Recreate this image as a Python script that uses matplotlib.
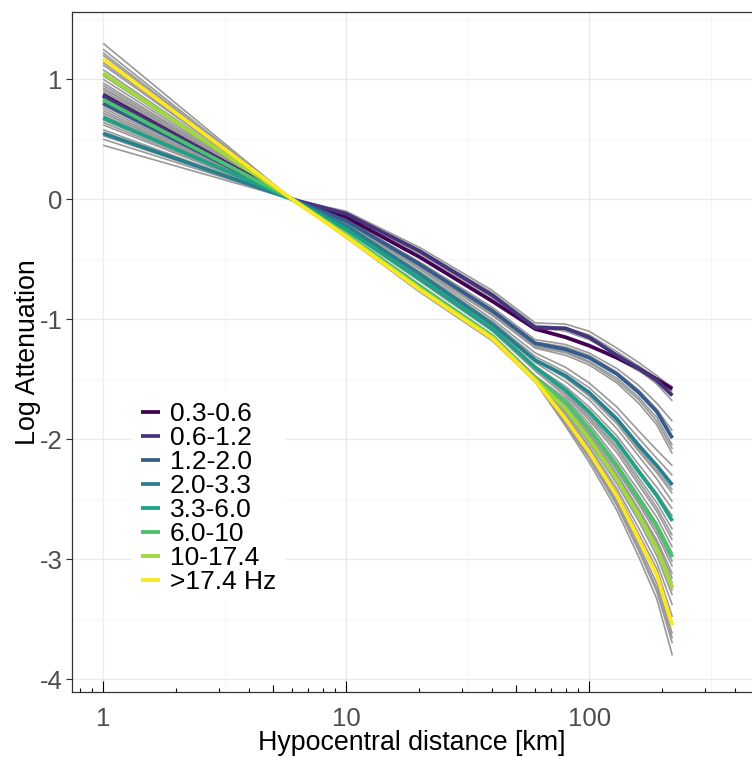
import numpy as np
import matplotlib
matplotlib.use("Agg")
import matplotlib.pyplot as plt

plt.rcParams['font.family'] = ['Liberation Sans', 'DejaVu Sans']
plt.rcParams['axes.unicode_minus'] = False

# distances (km) where the curves are read
dist = [1, 6, 10, 20, 40, 60, 80, 100, 130, 160, 190, 220]

bands = ['0.3-0.6', '0.6-1.2', '1.2-2.0', '2.0-3.3', '3.3-6.0', '6.0-10', '10-17.4', '>17.4 Hz']
band_colors = ['#440154', '#46337E', '#365C8D', '#277F8E', '#1FA187', '#4AC16D', '#9FDA3A', '#FDE725']

# log attenuation of the band averages
b1 = [0.87, 0, -0.15, -0.48, -0.85, -1.08, -1.15, -1.22, -1.32, -1.41, -1.50, -1.58]
b2 = [0.86, 0, -0.12, -0.43, -0.80, -1.07, -1.075, -1.15, -1.30, -1.41, -1.51, -1.635]
b3 = [0.80, 0, -0.18, -0.54, -0.93, -1.20, -1.25, -1.32, -1.455, -1.61, -1.77, -1.99]
b4 = [0.55, 0, -0.22, -0.62, -1.04, -1.34, -1.47, -1.61, -1.83, -2.05, -2.22, -2.38]
b5 = [0.68, 0, -0.25, -0.66, -1.08, -1.40, -1.59, -1.77, -2.02, -2.27, -2.47, -2.68]
b6 = [0.83, 0, -0.29, -0.72, -1.14, -1.49, -1.69, -1.91, -2.22, -2.49, -2.72, -2.98]
b7 = [1.05, 0, -0.30, -0.74, -1.15, -1.50, -1.745, -1.995, -2.33, -2.63, -2.91, -3.24]
b8 = [1.17, 0, -0.31, -0.75, -1.16, -1.51, -1.83, -2.105, -2.47, -2.83, -3.13, -3.55]
band_values = [b1, b2, b3, b4, b5, b6, b7, b8]

# single-frequency curves (grey)
grey_values = [
    [0.95, 0, -0.10, -0.40, -0.76, -1.03, -1.04, -1.10, -1.24, -1.36, -1.47, -1.57],
    [0.90, 0, -0.13, -0.45, -0.82, -1.06, -1.10, -1.17, -1.29, -1.39, -1.49, -1.56],
    [0.84, 0, -0.14, -0.47, -0.84, -1.09, -1.14, -1.21, -1.33, -1.43, -1.53, -1.62],
    [0.80, 0, -0.12, -0.44, -0.80, -1.08, -1.09, -1.16, -1.30, -1.42, -1.54, -1.68],
    [0.92, 0, -0.11, -0.42, -0.78, -1.05, -1.07, -1.13, -1.27, -1.39, -1.50, -1.60],
    [0.76, 0, -0.17, -0.52, -0.90, -1.17, -1.21, -1.28, -1.41, -1.55, -1.70, -1.85],
    [0.82, 0, -0.19, -0.55, -0.95, -1.22, -1.27, -1.35, -1.49, -1.65, -1.82, -2.05],
    [0.72, 0, -0.18, -0.53, -0.92, -1.19, -1.23, -1.30, -1.44, -1.59, -1.75, -1.93],
    [0.86, 0, -0.20, -0.57, -0.97, -1.24, -1.30, -1.38, -1.53, -1.70, -1.88, -2.12],
    [0.78, 0, -0.19, -0.56, -0.96, -1.23, -1.28, -1.36, -1.51, -1.67, -1.85, -2.08],
    [0.45, 0, -0.20, -0.58, -1.00, -1.28, -1.40, -1.53, -1.73, -1.93, -2.09, -2.22],
    [0.50, 0, -0.21, -0.60, -1.02, -1.31, -1.44, -1.57, -1.78, -1.99, -2.16, -2.30],
    [0.58, 0, -0.22, -0.63, -1.05, -1.34, -1.49, -1.64, -1.87, -2.10, -2.28, -2.45],
    [0.62, 0, -0.23, -0.64, -1.06, -1.36, -1.52, -1.67, -1.91, -2.14, -2.33, -2.52],
    [0.53, 0, -0.22, -0.62, -1.04, -1.34, -1.47, -1.62, -1.85, -2.08, -2.26, -2.42],
    [0.64, 0, -0.24, -0.65, -1.07, -1.39, -1.56, -1.73, -1.97, -2.21, -2.40, -2.58],
    [0.70, 0, -0.25, -0.67, -1.09, -1.41, -1.61, -1.80, -2.06, -2.32, -2.53, -2.75],
    [0.74, 0, -0.26, -0.68, -1.10, -1.43, -1.64, -1.84, -2.11, -2.38, -2.60, -2.84],
    [0.66, 0, -0.25, -0.66, -1.08, -1.40, -1.58, -1.76, -2.00, -2.25, -2.45, -2.64],
    [0.72, 0, -0.26, -0.67, -1.09, -1.42, -1.62, -1.82, -2.08, -2.35, -2.57, -2.80],
    [0.80, 0, -0.28, -0.71, -1.13, -1.47, -1.66, -1.87, -2.17, -2.43, -2.65, -2.90],
    [0.88, 0, -0.29, -0.73, -1.15, -1.49, -1.71, -1.94, -2.26, -2.54, -2.79, -3.06],
    [0.93, 0, -0.30, -0.73, -1.15, -1.50, -1.73, -1.96, -2.29, -2.58, -2.84, -3.12],
    [0.85, 0, -0.29, -0.72, -1.14, -1.48, -1.68, -1.90, -2.20, -2.47, -2.70, -2.95],
    [0.90, 0, -0.29, -0.73, -1.15, -1.49, -1.70, -1.92, -2.24, -2.52, -2.76, -3.02],
    [1.00, 0, -0.30, -0.74, -1.15, -1.50, -1.73, -1.97, -2.30, -2.60, -2.86, -3.16],
    [1.08, 0, -0.31, -0.75, -1.16, -1.51, -1.77, -2.03, -2.37, -2.68, -2.97, -3.30],
    [1.12, 0, -0.31, -0.75, -1.16, -1.51, -1.79, -2.06, -2.41, -2.74, -3.03, -3.38],
    [1.03, 0, -0.30, -0.74, -1.15, -1.50, -1.75, -2.00, -2.34, -2.65, -2.93, -3.26],
    [0.97, 0, -0.30, -0.74, -1.15, -1.50, -1.74, -1.98, -2.32, -2.62, -2.89, -3.20],
    [1.20, 0, -0.31, -0.76, -1.17, -1.51, -1.85, -2.13, -2.51, -2.88, -3.20, -3.62],
    [1.25, 0, -0.32, -0.76, -1.17, -1.52, -1.87, -2.16, -2.55, -2.93, -3.27, -3.70],
    [1.30, 0, -0.32, -0.77, -1.18, -1.52, -1.89, -2.19, -2.59, -2.98, -3.33, -3.80],
    [1.14, 0, -0.31, -0.75, -1.16, -1.51, -1.81, -2.08, -2.44, -2.79, -3.08, -3.48],
    [1.22, 0, -0.31, -0.76, -1.17, -1.52, -1.86, -2.15, -2.53, -2.91, -3.24, -3.66],
]

fig = plt.figure(figsize=(7.52, 7.57), dpi=100)
ax = fig.add_axes([72 / 752, 1 - 692 / 757, 680 / 752, 680 / 757])

for g in grey_values:
    ax.plot(dist, g, color='#999999', lw=1.2, solid_capstyle='butt', zorder=2)
for vals, col, lab in zip(band_values, band_colors, bands):
    ax.plot(dist, vals, color=col, lw=2.7, label=lab, solid_capstyle='butt', zorder=3)

ax.set_xscale('log')
ax.set_xlim(0.745, 468)
ax.set_ylim(-4.105, 1.56)

ax.set_xticks([1, 10, 100])
ax.set_xticklabels(['1', '10', '100'])
ax.set_xticks([10 ** 0.5, 10 ** 1.5, 10 ** 2.5], minor=True)
ax.set_yticks([-4, -3, -2, -1, 0, 1])
ax.set_yticks([-3.5, -2.5, -1.5, -0.5, 0.5, 1.5], minor=True)
ax.tick_params(axis='x', which='both', length=0, pad=11, labelsize=18.5, labelcolor='#4D4D4D')
ax.tick_params(axis='y', which='major', length=4, width=0.8, color='#333333', pad=3,
               labelsize=18.5, labelcolor='#4D4D4D')
ax.tick_params(axis='y', which='minor', length=0)

ax.grid(which='major', color='#EBEBEB', lw=1.0, zorder=0)
ax.grid(which='minor', color='#F4F4F4', lw=0.6, zorder=0)
ax.set_axisbelow(True)

# log ticks along the bottom
for k in [0.1, 1, 10, 100]:
    for m in range(1, 10):
        v = m * k
        if v < 0.745 or v > 468:
            continue
        if m == 1:
            h = 0.016
        elif m == 5:
            h = 0.011
        else:
            h = 0.0055
        ax.vlines(v, 0, h, transform=ax.get_xaxis_transform(), color='black', lw=0.8, zorder=4)

for s in ['left', 'top', 'bottom']:
    ax.spines[s].set_color('#333333')
    ax.spines[s].set_linewidth(0.9)
ax.spines['right'].set_visible(False)

ax.set_xlabel('Hypocentral distance [km]', fontsize=19.3, labelpad=-1)
ax.set_ylabel('Log Attenuation', fontsize=19.3, labelpad=-1)

leg = ax.legend(loc='upper left', bbox_to_anchor=(132 / 752, 1 - 393 / 757),
                bbox_transform=fig.transFigure, fontsize=19, frameon=True,
                fancybox=False, edgecolor='none', facecolor='white', framealpha=1,
                handlelength=0.7, handletextpad=0.38, labelspacing=0.0,
                borderpad=0.35, borderaxespad=0)

fig.savefig('out.png', dpi=100)
